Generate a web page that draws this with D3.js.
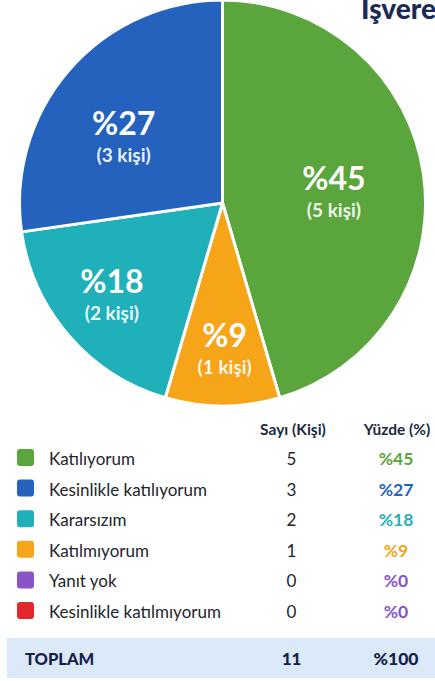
<!DOCTYPE html>
<html><head><meta charset="utf-8">
<script src="https://cdn.jsdelivr.net/npm/d3@7"></script>
<style>
html,body{margin:0;padding:0;background:#fff;overflow:hidden;}
svg{display:block;font-family:Lato,"Noto Sans",sans-serif;}
</style></head>
<body><svg id="c" width="435" height="681"></svg>
<script>
const title = "İşveren";
const categories = ["Katılıyorum","Kesinlikle katılıyorum","Kararsızım","Katılmıyorum","Yanıt yok","Kesinlikle katılmıyorum"];
const counts = [5,3,2,1,0,0];
const percents = [45,27,18,9,0,0];
const colors = ["#5ba53d","#2462bd","#1fb0b9","#f6a418","#8954c6","#e3282b"];
const pctColors = ["#5ba53d","#2462bd","#1fb0b9","#f6a418","#8954c6","#8954c6"];
const pieOrder = [0,3,2,1]; // clockwise from top
const headers = ["Sayı (Kişi)","Yüzde (%)"];
const totalLabel = "TOPLAM";
const totalCount = 11;
const totalPct = 100;

const svg = d3.select("#c");
const cx = 222.5, cy = 203, R = 203;

svg.append("text").attr("x",361).attr("y",19).attr("font-size",28).attr("font-weight",900)
  .attr("fill","#1b2a55").text(title);

const pieData = pieOrder.map(i=>({i, v:counts[i]}));
const pie = d3.pie().value(d=>d.v).sort(null);
const arcs = pie(pieData);
const arc = d3.arc().innerRadius(0).outerRadius(R);
const g = svg.append("g").attr("transform",`translate(${cx},${cy})`);
g.selectAll("path").data(arcs).join("path")
  .attr("d",arc).attr("fill",d=>colors[d.data.i])
  .attr("stroke","#fff").attr("stroke-width",3).attr("stroke-linejoin","round");

// label radius (fraction of R) and angular nudge (radians) per category
const labelR = {0:0.551,1:0.58,2:0.715,3:0.729};
const labelNudge = {0:0.062,1:-0.14,2:0.01,3:-0.015};
arcs.forEach(a=>{
  const i=a.data.i;
  const mid=(a.startAngle+a.endAngle)/2 + labelNudge[i];
  const r=R*labelR[i];
  const x=Math.sin(mid)*r, y=-Math.cos(mid)*r;
  g.append("text").attr("x",x).attr("y",y-4).attr("text-anchor","middle")
    .attr("font-size",32).attr("font-weight",700).attr("fill","#fff").text("%"+percents[i]);
  g.append("text").attr("x",x).attr("y",y+23).attr("text-anchor","middle")
    .attr("font-size",19).attr("font-weight",700).attr("fill","#fff").attr("fill-opacity",0.92)
    .text(`(${counts[i]} kişi)`);
});

// table
const y = d3.scaleBand().domain(d3.range(categories.length)).range([442.2,625.8]);
const colCount = 291.5, colPct = 396;
svg.append("text").attr("x",293).attr("y",435).attr("text-anchor","middle").attr("font-size",15.5)
  .attr("font-weight",700).attr("fill","#1b2a40").text(headers[0]);
svg.append("text").attr("x",397).attr("y",435).attr("text-anchor","middle").attr("font-size",15.5)
  .attr("font-weight",700).attr("fill","#1b2a40").text(headers[1]);

const rows = svg.selectAll("g.row").data(categories).join("g").attr("class","row")
  .attr("transform",(d,i)=>`translate(0,${y(i)+y.bandwidth()/2})`);
rows.append("rect").attr("x",17).attr("y",-8.5).attr("width",17).attr("height",17).attr("rx",3)
  .attr("fill",(d,i)=>colors[i]);
rows.append("text").attr("x",49).attr("y",7.5).attr("font-size",17).attr("fill","#22252b").text(d=>d);
rows.append("text").attr("x",colCount).attr("y",7.5).attr("text-anchor","middle").attr("font-size",17)
  .attr("fill","#22252b").text((d,i)=>counts[i]);
rows.append("text").attr("x",colPct).attr("y",7.5).attr("text-anchor","middle").attr("font-size",17.5)
  .attr("font-weight",700).attr("fill",(d,i)=>pctColors[i]).text((d,i)=>"%"+percents[i]);

svg.append("rect").attr("x",7).attr("y",638).attr("width",428).attr("height",40).attr("fill","#dce9f8");
svg.append("text").attr("x",25).attr("y",665).attr("font-size",16.5).attr("font-weight",900).attr("fill","#14224a").text(totalLabel);
svg.append("text").attr("x",colCount).attr("y",665).attr("text-anchor","middle").attr("font-size",17).attr("font-weight",900).attr("fill","#14224a").text(totalCount);
svg.append("text").attr("x",colPct).attr("y",665).attr("text-anchor","middle").attr("font-size",17.5).attr("font-weight",900).attr("fill","#14224a").text("%"+totalPct);
</script></body></html>
